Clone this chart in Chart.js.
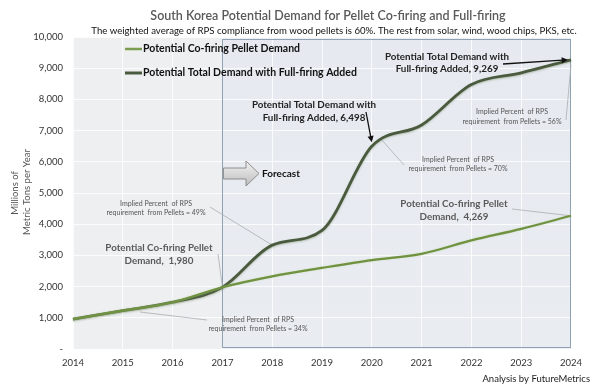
<!DOCTYPE html>
<html><head><meta charset="utf-8">
<script src="https://cdn.jsdelivr.net/npm/chart.js@4"></script>
<style>html,body{margin:0;padding:0;background:#fff}canvas{display:block}</style>
</head><body>
<canvas id="c" width="600" height="392"></canvas>
<script>
// ---------- DATA ----------
const years = ['2014','2015','2016','2017','2018','2019','2020','2021','2022','2023','2024'];
const coFiringDemand = [960, 1230, 1500, 1980, 2330, 2600, 2850, 3050, 3480, 3850, 4269];
const totalDemand    = [960, 1230, 1500, 1980, 3330, 3800, 6498, 7180, 8480, 8850, 9269];
const yTickValues = [0,1000,2000,3000,4000,5000,6000,7000,8000,9000,10000];
const seriesNames = ['Potential Co-firing Pellet Demand', 'Potential Total Demand with Full-firing Added'];
const forecastStartYear = '2017';
const titleText = 'South Korea Potential Demand for Pellet Co-firing and Full-firing';
const subtitleText = 'The weighted average of RPS compliance from wood pellets is 60%. The rest from solar, wind, wood chips, PKS, etc.';
const yAxisTitle = ['Millions of', 'Metric Tons per Year'];
const creditText = 'Analysis by FutureMetrics';
const forecastText = 'Forecast';

// ---------- STYLE ----------
const FONT = 'Lato, "Open Sans", sans-serif';
const C_CO = '#6f9240';
const C_TOT = '#4a5a3e';

function fmt(v){ return v === 0 ? '-' : v.toLocaleString('en-US'); }

// Annotation layout (pixel layout + which point each leader points to)
const callouts = [
  {lines:['Potential Co-firing Pellet','Demand,  ' + fmt(coFiringDemand[3])], cx:159, y:[248,261], font:'bold 9.8px', color:'#5a5a5a',
   leader:{from:[218,254], ds:0, i:3}},
  {lines:['Implied Percent  of RPS','requirement  from Pellets = 34%'], cx:258, y:[320,329], font:'7px', color:'#555',
   leader:{from:[207,320], to:[140,312]}},
  {lines:['Implied Percent  of RPS','requirement  from Pellets = 49%'], cx:156, y:[204,213], font:'7px', color:'#555',
   leader:{from:[210,207], ds:1, i:4}},
  {lines:['Potential Total Demand with','Full-firing Added, ' + fmt(totalDemand[6])], cx:314, y:[105,118], font:'bold 9.8px', color:'#222',
   arrow:{from:[366,112], ds:1, i:6, dy:-4}},
  {lines:['Implied Percent  of RPS','requirement  from Pellets = 70%'], cx:458, y:[160,169], font:'7px', color:'#555',
   leader:{from:[404,165], to:[381,139]}},
  {lines:['Implied Percent  of RPS','requirement  from Pellets = 56%'], cx:512, y:[112,122], font:'7px', color:'#555',
   leader:{from:[566,120], ds:1, i:10, dy:5}},
  {lines:['Potential Total Demand with','Full-firing Added, ' + fmt(totalDemand[10])], cx:447, y:[57,69], font:'bold 9.8px', color:'#222',
   arrow:{from:[503,64], ds:1, i:10, dx:-3}},
  {lines:['Potential Co-firing Pellet','Demand,  ' + fmt(coFiringDemand[10])], cx:454, y:[204,217], font:'bold 9.8px', color:'#5a5a5a',
   leader:{from:[512,209], ds:0, i:10}},
];

function ptPixel(chart, ds, i){
  const x = chart.scales.x.getPixelForValue(i);
  const v = chart.data.datasets[ds].data[i];
  return [x, chart.scales.y.getPixelForValue(v)];
}

function drawArrow(ctx, x1, y1, x2, y2, color, w, head){
  const ang = Math.atan2(y2-y1, x2-x1);
  ctx.save();
  ctx.strokeStyle = color; ctx.fillStyle = color; ctx.lineWidth = w;
  ctx.beginPath(); ctx.moveTo(x1,y1);
  ctx.lineTo(x2 - Math.cos(ang)*head*0.8, y2 - Math.sin(ang)*head*0.8); ctx.stroke();
  ctx.beginPath();
  ctx.moveTo(x2,y2);
  ctx.lineTo(x2 - head*Math.cos(ang-0.45), y2 - head*Math.sin(ang-0.45));
  ctx.lineTo(x2 - head*Math.cos(ang+0.45), y2 - head*Math.sin(ang+0.45));
  ctx.closePath(); ctx.fill();
  ctx.restore();
}

const decorPlugin = {
  id: 'decor',
  beforeDraw(chart){
    const {ctx, chartArea:a, scales:{x}} = chart;
    ctx.save();
    ctx.fillStyle = '#ffffff'; ctx.fillRect(0,0,chart.width,chart.height);
    ctx.fillStyle = '#edeff0'; ctx.fillRect(a.left, a.top, a.width, a.height);
    const fx = x.getPixelForValue(years.indexOf(forecastStartYear));
    const g = ctx.createLinearGradient(0, a.top, 0, a.bottom);
    g.addColorStop(0, '#e6eaf0'); g.addColorStop(1, '#e9ecf1');
    ctx.fillStyle = g; ctx.fillRect(fx, a.top+2, a.right-fx, a.height-3);
    ctx.restore();
  },
  beforeDatasetsDraw(chart){
    const {ctx, chartArea:a, scales:{x}} = chart;
    const fx = x.getPixelForValue(years.indexOf(forecastStartYear));
    ctx.save();
    ctx.strokeStyle = '#8fa1b5'; ctx.lineWidth = 1;
    ctx.strokeRect(Math.round(fx)+0.5, a.top+2.5, Math.round(a.right-fx)-1, a.height-4);
    // Forecast block arrow
    const g = ctx.createLinearGradient(0,161,0,186);
    g.addColorStop(0,'#f2f2f2'); g.addColorStop(1,'#bdbdbd');
    ctx.fillStyle = g; ctx.strokeStyle = '#8c8c8c'; ctx.lineWidth = 1;
    ctx.beginPath();
    ctx.moveTo(fx+1,168); ctx.lineTo(246,168); ctx.lineTo(246,161); ctx.lineTo(259,173.5);
    ctx.lineTo(246,186); ctx.lineTo(246,179); ctx.lineTo(fx+1,179); ctx.closePath();
    ctx.fill(); ctx.stroke();
    ctx.fillStyle = '#111'; ctx.font = 'bold 10px ' + FONT;
    ctx.textAlign = 'left'; ctx.textBaseline = 'middle';
    ctx.fillText(forecastText, 262, 174);
    // leaders (thin gray) under lines
    callouts.forEach(c => {
      if (!c.leader) return;
      const L = c.leader;
      let to = L.to ? L.to : ptPixel(chart, L.ds, L.i);
      if (!L.to) to = [to[0] + (L.dx||0), to[1] + (L.dy||0)];
      ctx.strokeStyle = '#a9aeb3'; ctx.lineWidth = 0.8;
      ctx.beginPath(); ctx.moveTo(L.from[0], L.from[1]); ctx.lineTo(to[0], to[1]); ctx.stroke();
    });
    ctx.restore();
  },
  beforeDatasetDraw(chart, args){
    const ctx = chart.ctx;
    ctx.save();
    if (args.index === 1){
      ctx.shadowColor = 'rgba(110,130,90,0.45)'; ctx.shadowBlur = 2; ctx.shadowOffsetY = 1;
    } else {
      ctx.shadowColor = 'rgba(180,200,140,0.6)'; ctx.shadowBlur = 1.5;
    }
  },
  afterDatasetDraw(chart){ chart.ctx.restore(); },
  afterDraw(chart){
    const ctx = chart.ctx;
    ctx.save();
    ctx.textAlign = 'center'; ctx.textBaseline = 'middle';
    // title & subtitle
    ctx.fillStyle = '#595959'; ctx.font = '600 12.5px ' + FONT;
    ctx.fillText(titleText, 328, 16);
    ctx.fillStyle = '#111'; ctx.font = '9.6px ' + FONT;
    ctx.fillText(subtitleText, 334, 31);
    // y axis title
    ctx.fillStyle = '#555'; ctx.font = '9.5px ' + FONT;
    ctx.save(); ctx.translate(15, 193); ctx.rotate(-Math.PI/2); ctx.fillText(yAxisTitle[0], 0, 0); ctx.restore();
    ctx.save(); ctx.translate(27, 192); ctx.rotate(-Math.PI/2); ctx.fillText(yAxisTitle[1], 0, 0); ctx.restore();
    // credit
    ctx.textAlign = 'right'; ctx.fillStyle = '#222'; ctx.font = '9.5px ' + FONT;
    ctx.fillText(creditText, 590, 379);
    // legend
    const legendY = [49, 73];
    seriesNames.forEach((n, k) => {
      const ds = chart.data.datasets[k];
      ctx.strokeStyle = k === 0 ? '#7c9c50' : ds.borderColor; ctx.lineWidth = k === 0 ? 2.5 : 3;
      ctx.beginPath(); ctx.moveTo(125, legendY[k]); ctx.lineTo(142, legendY[k]); ctx.stroke();
      ctx.fillStyle = '#111'; ctx.font = 'bold 10.5px ' + FONT; ctx.textAlign = 'left';
      ctx.fillText(n, 143, legendY[k]);
    });
    // callouts
    callouts.forEach(c => {
      ctx.fillStyle = c.color; ctx.font = c.font + ' ' + FONT; ctx.textAlign = 'center';
      c.lines.forEach((t, k) => ctx.fillText(t, c.cx, c.y[k]));
      if (c.arrow){
        const A = c.arrow;
        const p = ptPixel(chart, A.ds, A.i);
        drawArrow(ctx, A.from[0], A.from[1], p[0] + (A.dx||0), p[1] + (A.dy||0), '#111', 1.3, 7);
      }
    });
    ctx.restore();
  }
};

new Chart(document.getElementById('c'), {
  type: 'line',
  data: {
    labels: years,
    datasets: [
      {label: seriesNames[0], data: coFiringDemand, borderColor: C_CO, borderWidth: 2.2,
       pointRadius: 0, cubicInterpolationMode: 'monotone', fill: false},
      {label: seriesNames[1], data: totalDemand, borderColor: C_TOT, borderWidth: 2.8,
       pointRadius: 0, cubicInterpolationMode: 'monotone', fill: false}
    ]
  },
  options: {
    responsive: false,
    animation: false,
    layout: {padding: {left: 0, top: 37, right: 29, bottom: 0}},
    plugins: {legend: {display: false}, tooltip: {enabled: false}, title: {display: false}},
    scales: {
      x: {
        type: 'category', offset: false,
        grid: {color: 'rgba(255,255,255,0.8)', drawTicks: false},
        border: {display: false},
        ticks: {color: '#333', font: {family: FONT, size: 9.5}, padding: 8, maxRotation: 0, autoSkip: false},
        afterFit(s){ s.height = 392 - 349; }
      },
      y: {
        min: 0, max: 10000,
        afterBuildTicks(s){ s.ticks = yTickValues.map(v => ({value: v})); },
        grid: {color: 'rgba(255,255,255,0.8)', drawTicks: false},
        border: {display: false},
        ticks: {color: '#333', font: {family: FONT, size: 9.5}, padding: 10, callback: v => fmt(v)},
        afterFit(s){ s.width = 73; }
      }
    }
  },
  plugins: [decorPlugin]
});
</script>
</body></html>
